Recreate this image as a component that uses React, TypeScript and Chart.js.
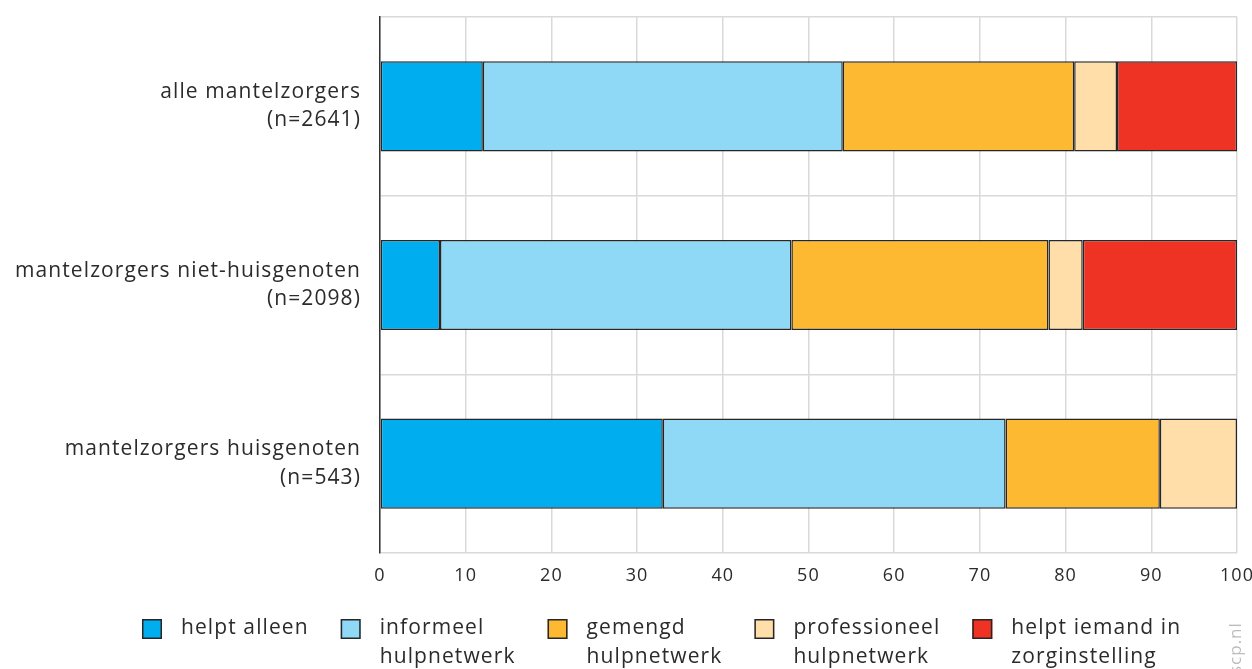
import React, { useEffect, useRef } from "react";
import { Chart, registerables } from "chart.js";

Chart.register(...registerables);

const categories: string[][] = [
  ["alle mantelzorgers", "(n=2641)"],
  ["mantelzorgers niet-huisgenoten", "(n=2098)"],
  ["mantelzorgers huisgenoten", "(n=543)"],
];

const seriesLabels: string[][] = [
  ["helpt alleen"],
  ["informeel", "hulpnetwerk"],
  ["gemengd", "hulpnetwerk"],
  ["professioneel", "hulpnetwerk"],
  ["helpt iemand in", "zorginstelling"],
];

const helptAlleen = [12, 7, 33];
const informeel = [42, 41, 40];
const gemengd = [27, 30, 18];
const professioneel = [5, 4, 9];
const zorginstelling = [14, 18, 0];

const xTickValues = [0, 10, 20, 30, 40, 50, 60, 70, 80, 90, 100];

const seriesColors = ["#00AEEF", "#8FD8F6", "#FCB931", "#FFDEAA", "#EE3224"];
const seriesData = [helptAlleen, informeel, gemengd, professioneel, zorginstelling];

const FONT = '"Open Sans", "Noto Sans", sans-serif';
const TEXT = "#2b2b2b";
const BORDER = "#262626";
const GRID = "#d9d9d9";
const SPACING = "1.1px";

const spacingPlugin = {
  id: "letterSpacing",
  beforeUpdate(chart: any) {
    (chart.ctx as any).letterSpacing = SPACING;
  },
  beforeLayout(chart: any) {
    (chart.ctx as any).letterSpacing = SPACING;
  },
  beforeDraw(chart: any) {
    (chart.ctx as any).letterSpacing = SPACING;
  },
};

const legendPlugin = {
  id: "customLegend",
  afterDraw(chart: any) {
    const ctx = chart.ctx as CanvasRenderingContext2D;
    ctx.save();
    (ctx as any).letterSpacing = SPACING;
    ctx.font = `21px ${FONT}`;
    ctx.textBaseline = "middle";
    ctx.textAlign = "left";
    let x = 142;
    const y1 = 628;
    const lineH = 29;
    seriesLabels.forEach((lines, i) => {
      ctx.fillStyle = seriesColors[i];
      ctx.fillRect(x, 619, 20, 20);
      ctx.strokeStyle = BORDER;
      ctx.lineWidth = 1.5;
      ctx.strokeRect(x + 0.75, 619.75, 18.5, 18.5);
      ctx.fillStyle = TEXT;
      let maxW = 0;
      lines.forEach((ln, j) => {
        ctx.fillText(ln, x + 39, y1 + j * lineH);
        maxW = Math.max(maxW, ctx.measureText(ln).width);
      });
      x += 39 + maxW + 32;
    });
    // watermark
    ctx.translate(1236, 674);
    ctx.rotate(-Math.PI / 2);
    (ctx as any).letterSpacing = "1px";
    ctx.font = `17px ${FONT}`;
    ctx.fillStyle = "#bdbdbd";
    ctx.textBaseline = "middle";
    ctx.fillText("scp.nl", 0, 0);
    ctx.restore();
  },
};

export default function App() {
  const canvasRef = useRef<HTMLCanvasElement | null>(null);

  useEffect(() => {
    document.body.style.margin = "0";
    const canvas = canvasRef.current;
    if (!canvas) return;
    const chart = new Chart(canvas, {
      type: "bar",
      data: {
        labels: categories,
        datasets: seriesData.map((d, i) => ({
          label: seriesLabels[i].join(" "),
          data: d,
          backgroundColor: seriesColors[i],
          borderColor: BORDER,
          borderWidth: 1.5,
          borderSkipped: false,
          categoryPercentage: 1,
          barPercentage: 0.505,
        })),
      },
      options: {
        indexAxis: "y",
        animation: false,
        responsive: true,
        maintainAspectRatio: false,
        layout: { padding: { top: 17, right: 15, left: 0, bottom: 0 } },
        plugins: {
          legend: { display: false },
          tooltip: { enabled: false },
        },
        scales: {
          x: {
            type: "linear",
            stacked: true,
            min: 0,
            max: 100,
            afterBuildTicks: (scale: any) => {
              scale.ticks = xTickValues.map((v) => ({ value: v }));
            },
            afterFit: (scale: any) => {
              scale.height = 116;
              scale.paddingLeft = 0;
              scale.paddingRight = 0;
              scale.paddingTop = 0;
              scale.paddingBottom = 0;
            },
            ticks: {
              color: TEXT,
              font: { family: FONT, size: 18 },
              padding: 12,
            },
            grid: {
              color: GRID,
              lineWidth: 1.5,
              drawTicks: false,
            },
            border: { display: false },
          },
          y: {
            type: "category",
            stacked: true,
            afterFit: (scale: any) => {
              scale.width = 380;
              scale.paddingLeft = 0;
              scale.paddingRight = 0;
              scale.paddingTop = 0;
              scale.paddingBottom = 0;
            },
            ticks: {
              color: TEXT,
              font: { family: FONT, size: 21, lineHeight: 1.35 },
              padding: 19,
            },
            grid: {
              color: GRID,
              lineWidth: 1.5,
              drawTicks: false,
              offset: true,
            },
            border: { display: true, color: "#333333", width: 1.5 },
          },
        },
      },
      plugins: [spacingPlugin, legendPlugin],
    });
    return () => chart.destroy();
  }, []);

  return (
    <div style={{ width: 1252, height: 669, position: "relative" }}>
      <canvas ref={canvasRef} />
    </div>
  );
}
